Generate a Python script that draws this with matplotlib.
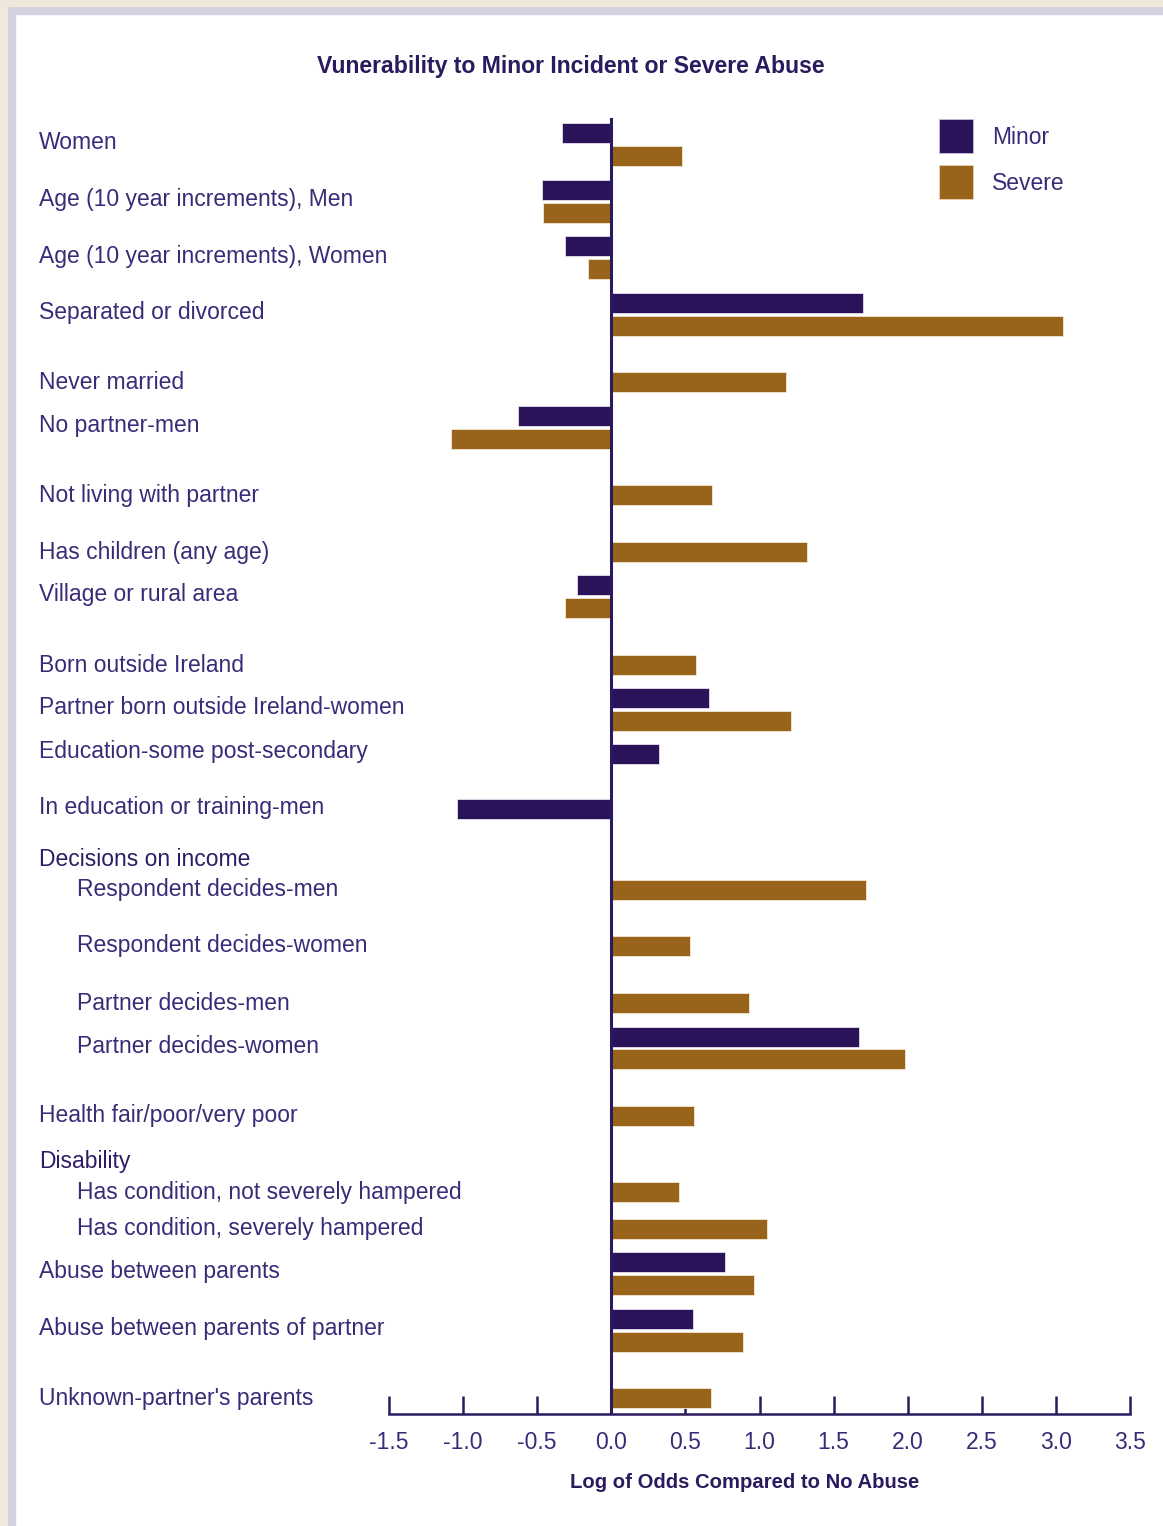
import matplotlib
matplotlib.use("Agg")
import matplotlib.pyplot as plt
from matplotlib.patches import Rectangle
from matplotlib.transforms import blended_transform_factory

labels = ["Women", "Age (10 year increments), Men", "Age (10 year increments), Women",
          "Separated or divorced", "Never married", "No partner-men",
          "Not living with partner", "Has children (any age)", "Village or rural area",
          "Born outside Ireland", "Partner born outside Ireland-women",
          "Education-some post-secondary", "In education or training-men",
          "Respondent decides-men", "Respondent decides-women",
          "Partner decides-men", "Partner decides-women",
          "Health fair/poor/very poor",
          "Has condition, not severely hampered", "Has condition, severely hampered",
          "Abuse between parents", "Abuse between parents of partner",
          "Unknown-partner's parents"]
indented = [False] * 13 + [True] * 4 + [False] + [True] * 2 + [False] * 3

# None = no bar shown
minor = [-0.33, -0.47, -0.31, 1.70, None, -0.63, None, None, -0.23, None, 0.66,
         0.32, -1.04, None, None, None, 1.67, None, None, None, 0.77, 0.55, None]
severe = [0.48, -0.46, -0.16, 3.05, 1.18, -1.08, 0.68, 1.32, -0.31, 0.57, 1.21,
          None, None, 1.72, 0.53, 0.93, 1.98, 0.56, 0.46, 1.05, 0.96, 0.89, 0.67]

headers = ["Decisions on income", "Disability"]
header_pos = [12.64, 17.96]

# row slots (a few rows sit slightly off the regular grid in the original)
pos = [0, 1, 2, 3, 4, 5, 6, 7, 7.98, 9, 9.98, 10.96, 11.94, 12.97, 13.96, 14.97,
       15.96, 16.96, 18.31, 18.96, 19.95, 20.95, 21.95]

C_MINOR = "#2b1359"
C_SEVERE = "#98641c"
C_TEXT = "#3b2a78"
C_HEAD = "#2e1d66"
C_DARK = "#2a1a5e"

W, H = 1163, 1526
fig = plt.figure(figsize=(W / 100, H / 100), dpi=100)
fig.patch.set_facecolor("white")

# page frame
fig.patches.append(Rectangle((0, 0), 15 / W, 1, transform=fig.transFigure, color="#d5d0e2", zorder=0))
fig.patches.append(Rectangle((0, 1 - 14 / H), 1, 14 / H, transform=fig.transFigure, color="#d5d0e2", zorder=0))
fig.patches.append(Rectangle((0, 0), 7 / W, 1, transform=fig.transFigure, color="#f0e8dd", zorder=0))
fig.patches.append(Rectangle((0, 1 - 6 / H), 1, 6 / H, transform=fig.transFigure, color="#f0e8dd", zorder=0))

ax = fig.add_axes([389 / W, 1 - 1414 / H, (1130 - 389) / W, (1414 - 118) / H])
ax.set_facecolor("none")

bh = 0.353
off = 0.2
for i, p in enumerate(pos):
    if minor[i] is not None:
        ax.barh(p - off, minor[i], height=bh, color=C_MINOR, edgecolor="#e6e0ee", linewidth=0.6, zorder=2)
    if severe[i] is not None:
        ax.barh(p + off, severe[i], height=bh, color=C_SEVERE, edgecolor="#f3e6d2", linewidth=0.6, zorder=2)

ax.axvline(0, color=C_DARK, lw=2.2, zorder=3)

ax.set_xlim(-1.5, 3.5)
ax.set_ylim(22.43, -0.47)
ax.set_xticks([-1.5, -1.0, -0.5, 0.0, 0.5, 1.0, 1.5, 2.0, 2.5, 3.0, 3.5])
ax.set_xticklabels(["-1.5", "-1.0", "-0.5", "0.0", "0.5", "1.0", "1.5", "2.0", "2.5", "3.0", "3.5"])
ax.set_yticks([])
for s in ["top", "left", "right"]:
    ax.spines[s].set_visible(False)
ax.spines["bottom"].set_color(C_DARK)
ax.spines["bottom"].set_linewidth(1.8)
ax.tick_params(axis="x", direction="in", length=13, width=1.8, color=C_DARK,
               labelsize=16.5, labelcolor=C_TEXT, pad=12.5)
for t in ax.get_xticklabels():
    t.set_fontfamily("Liberation Sans")

# category labels, centred on the bars present
tr = blended_transform_factory(fig.transFigure, ax.transData)
for i, lab in enumerate(labels):
    ys = []
    if minor[i] is not None:
        ys.append(pos[i] - off)
    if severe[i] is not None:
        ys.append(pos[i] + off)
    y = sum(ys) / len(ys)
    if minor[i] is not None:
        y -= 0.03
    x = 77 / W if indented[i] else 39 / W
    ax.text(x, y, lab, transform=tr, fontsize=16.5, color=C_TEXT,
            family="Liberation Sans", va="center", ha="left")
for h, y in zip(headers, header_pos):
    ax.text(39 / W, y, h, transform=tr, fontsize=16.5, color=C_HEAD,
            family="Liberation Sans", va="center", ha="left")

fig.text(571 / W, 1 - 67 / H, "Vunerability to Minor Incident or Severe Abuse",
         fontsize=16.6, fontweight="bold", color=C_DARK,
         family="Liberation Sans", ha="center", va="center")
fig.text(745 / W, 1 - 1483 / H, "Log of Odds Compared to No Abuse",
         fontsize=14.6, fontweight="bold", color=C_DARK,
         family="Liberation Sans", ha="center", va="center")

# legend
leg_items = [("Minor", C_MINOR, "#c9bfdc", 119, 138), ("Severe", C_SEVERE, "#e8d2b0", 165, 183)]
for name, fc, ec, top, ty in leg_items:
    fig.patches.append(Rectangle((939 / W, 1 - (top + 34) / H), 34 / W, 34 / H,
                                 transform=fig.transFigure, facecolor=fc,
                                 edgecolor=ec, lw=0.6))
    fig.text(992 / W, 1 - ty / H, name, fontsize=16.5, color=C_TEXT,
             family="Liberation Sans", ha="left", va="center")

fig.savefig("out.png", dpi=100)
